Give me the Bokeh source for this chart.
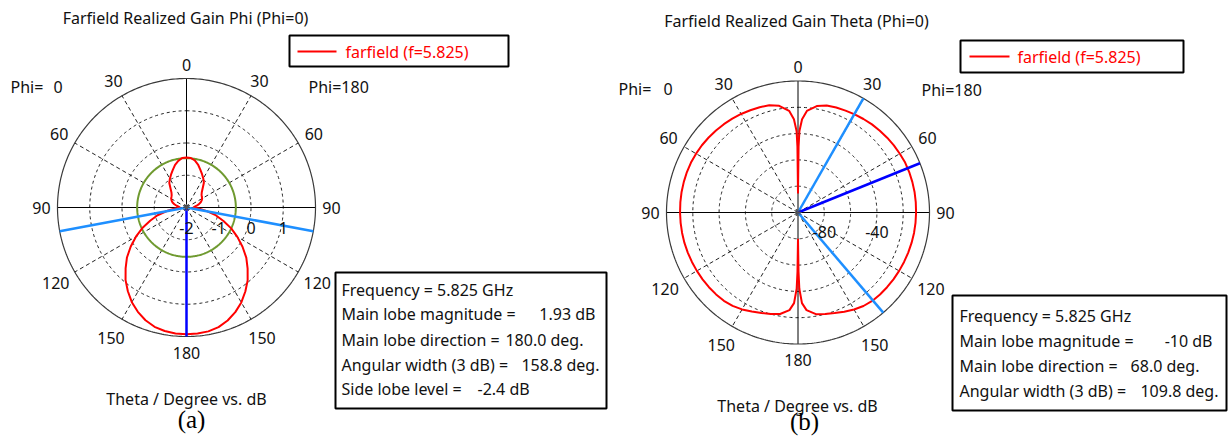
import numpy as np
from bokeh.plotting import figure
from bokeh.models import Range1d, ColumnDataSource
from bokeh.embed import file_html
from bokeh.resources import INLINE
from bokeh.core.properties import value

# ---------------------------------------------------------------------------
# Farfield cut data, Phi=0 plane (theta in degrees, realized gain in dB)
# "phi180" is the right half of each polar plot, "phi0" the left half.
# ---------------------------------------------------------------------------
theta_a = [0, 5, 10, 15, 20, 25, 30, 35, 40, 45, 50, 55, 60, 65, 70, 75, 80, 85, 90,
           95, 100, 105, 110, 115, 120, 125, 130, 135, 140, 145, 150, 155, 160, 165,
           170, 175, 180]
gain_a_phi180 = [-0.45, -0.46, -0.52, -0.62, -0.75, -0.86, -0.96, -1.06, -1.22, -1.33,
                 -1.39, -1.42, -1.44, -1.48, -1.53, -1.60, -1.68, -1.76, -1.78, -1.62,
                 -1.36, -1.05, -0.78, -0.47, -0.18, 0.12, 0.42, 0.68, 0.95, 1.18, 1.40,
                 1.58, 1.73, 1.84, 1.90, 1.92, 1.93]
gain_a_phi0 = [-0.45, -0.46, -0.53, -0.63, -0.76, -0.87, -0.97, -1.07, -1.23, -1.34,
               -1.40, -1.43, -1.45, -1.49, -1.54, -1.61, -1.69, -1.77, -1.79, -1.64,
               -1.38, -1.07, -0.80, -0.49, -0.19, 0.11, 0.41, 0.67, 0.94, 1.17, 1.39,
               1.57, 1.72, 1.83, 1.89, 1.92, 1.93]

theta_b = [0, 0.5, 1, 2.5, 5, 10, 15, 20, 25, 30, 35, 40, 45, 50, 55, 60, 65, 70, 75, 80,
           85, 90, 95, 100, 105, 110, 115, 120, 125, 130, 135, 140, 145, 150, 155, 160,
           165, 170, 175, 177.5, 179, 179.5, 180]
gain_b_phi180 = [-85, -50, -38, -29, -22.5, -17.8, -15.8, -15.0, -14.5, -13.8, -13.2,
                 -12.5, -12.0, -11.5, -11.0, -10.6, -10.1, -10.0, -10.0, -10.0, -10.1,
                 -10.2, -10.3, -10.4, -10.6, -10.8, -11.0, -11.2, -11.4, -11.6, -11.8,
                 -12.2, -13.2, -14.8, -16.8, -18.6, -20.0, -21.5, -25.5, -31, -42, -55, -80]
gain_b_phi0 = [-85, -50, -38, -29, -22.4, -17.6, -15.6, -14.8, -14.2, -13.5, -12.9,
               -12.3, -11.8, -11.3, -10.8, -10.5, -10.2, -10.1, -10.1, -10.1, -10.2,
               -10.3, -10.4, -10.5, -10.6, -10.8, -11.0, -11.2, -11.4, -11.6, -11.9,
               -12.3, -13.3, -14.9, -16.9, -18.7, -20.1, -21.6, -25.5, -31, -42, -55, -80]

# Beam summary for each cut
main_dir_a, width_a, main_mag_a, side_lobe_a = 180.0, 158.8, 1.93, -2.4
main_dir_b, width_b, main_mag_b = 68.0, 109.8, -10
edges_b = [29.8, 139.6]

ring_labels_a = ["-2", "-1", "0", "1"]
ring_labels_b = ["-80", "-40"]
angle_ticks = [0, 30, 60, 90, 120, 150, 180]

info_a = [("Frequency = 5.825 GHz", ""),
          ("Main lobe magnitude =", "1.93 dB"),
          ("Main lobe direction =", "180.0 deg."),
          ("Angular width (3 dB) =", "158.8 deg."),
          ("Side lobe level =", "-2.4 dB")]
info_b = [("Frequency = 5.825 GHz", ""),
          ("Main lobe magnitude =", "-10 dB"),
          ("Main lobe direction =", "68.0 deg."),
          ("Angular width (3 dB) =", "109.8 deg.")]

FONT = "Noto Sans"
FS = "16px"
TXT = "#111111"
RED = "#ff0000"
LBLUE = "#1e8fff"
DBLUE = "#0000ff"
GREEN = "#6f9a30"

W, H = 1230, 436
p = figure(width=W, height=H, x_range=Range1d(0, W), y_range=Range1d(H, 0),
           output_backend="svg", toolbar_location=None, min_border=0)
p.axis.visible = False
p.grid.visible = False
p.outline_line_color = None
p.background_fill_color = "white"
p.border_fill_color = "white"


def text(xs, ys, labels, align="center", color=TXT, size=FS, font=FONT, baseline="middle"):
    src = ColumnDataSource(dict(x=list(xs), y=list(ys), t=list(labels)))
    p.text("x", "y", text="t", source=src, text_font=value(font), text_font_size=size,
           text_color=color, text_align=align, text_baseline=baseline)


class Polar:
    def __init__(self, cx, cy, R, lo, hi):
        self.cx, self.cy, self.R, self.lo, self.hi = cx, cy, R, lo, hi

    def r(self, db):
        return (np.asarray(db, float) - self.lo) / (self.hi - self.lo) * self.R

    def xy(self, rad, ang):
        a = np.radians(np.asarray(ang, float))
        return self.cx + rad * np.sin(a), self.cy - rad * np.cos(a)


def draw_grid(pl, ring_step):
    t = np.linspace(0, 360, 361)
    ring_vals = np.arange(pl.lo + ring_step, pl.hi - 1e-9, ring_step)
    xs, ys = [], []
    for v in ring_vals:
        x, y = pl.xy(pl.r(v), t)
        xs.append(list(x)); ys.append(list(y))
    p.multi_line(xs, ys, line_color="#222222", line_width=1, line_dash="3 3")
    # dashed spokes
    sx0, sy0, sx1, sy1 = [], [], [], []
    for a in [30, 60, 120, 150, 210, 240, 300, 330]:
        x1, y1 = pl.xy(pl.R, a)
        sx0.append(pl.cx); sy0.append(pl.cy); sx1.append(float(x1)); sy1.append(float(y1))
    p.segment(sx0, sy0, sx1, sy1, line_color="#222222", line_width=1, line_dash="4 3")
    # solid axes
    p.segment([pl.cx - pl.R, pl.cx], [pl.cy, pl.cy - pl.R], [pl.cx + pl.R, pl.cx],
              [pl.cy, pl.cy + pl.R], line_color="black", line_width=1)
    # outer circle
    x, y = pl.xy(pl.R, t)
    p.line(list(x), list(y), line_color="#3a3a3a", line_width=1.2)


def angle_labels(pl):
    pads = {0: 14, 30: 17, 60: 18, 90: 16, 120: 22, 150: 22, 180: 16}
    xs, ys, ts = [], [], []
    for a in angle_ticks:
        sides = [a] if a in (0, 180) else [a, -a]
        for s in sides:
            x, y = pl.xy(pl.R + pads[a], s)
            xs.append(float(x)); ys.append(float(y)); ts.append(str(a))
    text(xs, ys, ts)


def pattern(pl, theta, right, left, color=RED, width=2):
    th = np.asarray(theta, float)
    ang = np.concatenate([-th[::-1], th])
    db = np.concatenate([np.asarray(left, float)[::-1], np.asarray(right, float)])
    x, y = pl.xy(pl.r(db), ang)
    p.line(list(x), list(y), line_color=color, line_width=width, line_join="round")


def ray(pl, ang, color, width):
    x1, y1 = pl.xy(pl.R, ang)
    p.segment([pl.cx], [pl.cy], [float(x1)], [float(y1)], line_color=color,
              line_width=width)


def box(x0, y0, x1, y1, lw=2):
    p.quad(left=[x0], right=[x1], top=[y0], bottom=[y1], fill_color="white",
           line_color="black", line_width=lw)


# ---------------------------- (a) Phi component ----------------------------
A = Polar(186, 207, 129, -2, 2)
draw_grid(A, 1)
t = np.linspace(0, 360, 361)
gx, gy = A.xy(A.r(main_mag_a + side_lobe_a), t)
p.line(list(gx), list(gy), line_color=GREEN, line_width=2)
pattern(A, theta_a, gain_a_phi180, gain_a_phi0)
ray(A, main_dir_a - width_a / 2, LBLUE, 2.5)
ray(A, -(main_dir_a - width_a / 2), LBLUE, 2.5)
ray(A, main_dir_a, DBLUE, 2.5)
p.scatter([A.cx], [A.cy], marker="asterisk", size=7, line_color="#555555")
angle_labels(A)
rl = A.r([-2, -1, 0, 1])
text(A.cx + rl, [227] * 4, ring_labels_a)

text([185], [17], ["Farfield Realized Gain Phi (Phi=0)"])
text([10, 53], [86, 86], ["Phi=", "0"], align="left")
text([308], [86], ["Phi=180"], align="left")
text([186], [398], ["Theta / Degree vs. dB"])
text([191], [419], ["(a)"], font="Liberation Serif", size="25px", color="black")

box(289, 35, 508, 66)
p.segment([297], [51], [336], [51], line_color=RED, line_width=2)
text([345], [51], ["farfield (f=5.825)"], align="left", color=RED)

box(335, 272, 606, 408)
ya = [289, 313, 339, 364, 388]
text([341] * 5, ya, [a for a, _ in info_a], align="left")
text([595, 583, 599], ya[1:4], [b for _, b in info_a[1:4]], align="right")
text([477], ya[4:], [info_a[4][1]], align="left")

# --------------------------- (b) Theta component ---------------------------
B = Polar(797.5, 212, 131.5, -100, 0)
draw_grid(B, 20)
pattern(B, theta_b, gain_b_phi180, gain_b_phi0)
ray(B, edges_b[0], LBLUE, 2.5)
ray(B, edges_b[1], LBLUE, 2.5)
ray(B, main_dir_b, DBLUE, 2.5)
p.scatter([B.cx], [B.cy], marker="asterisk", size=7, line_color="#555555")
angle_labels(B)
rb = B.r([-80, -40])
text(B.cx + rb, [231] * 2, ring_labels_b)

text([796], [20], ["Farfield Realized Gain Theta (Phi=0)"])
text([618, 663], [88, 88], ["Phi=", "0"], align="left")
text([921], [89], ["Phi=180"], align="left")
text([797], [405], ["Theta / Degree vs. dB"])
text([804], [421], ["(b)"], font="Liberation Serif", size="25px", color="black")

box(960, 40, 1183, 72)
p.segment([969], [56], [1009], [56], line_color=RED, line_width=2)
text([1017], [56], ["farfield (f=5.825)"], align="left", color=RED)

box(952, 295, 1226, 410)
yb = [315, 340, 365, 390]
text([959] * 4, yb, [a for a, _ in info_b], align="left")
text([1212, 1199, 1218], yb[1:], [b for _, b in info_b[1:]], align="right")

open("out.html", "w").write(file_html(p, INLINE))
